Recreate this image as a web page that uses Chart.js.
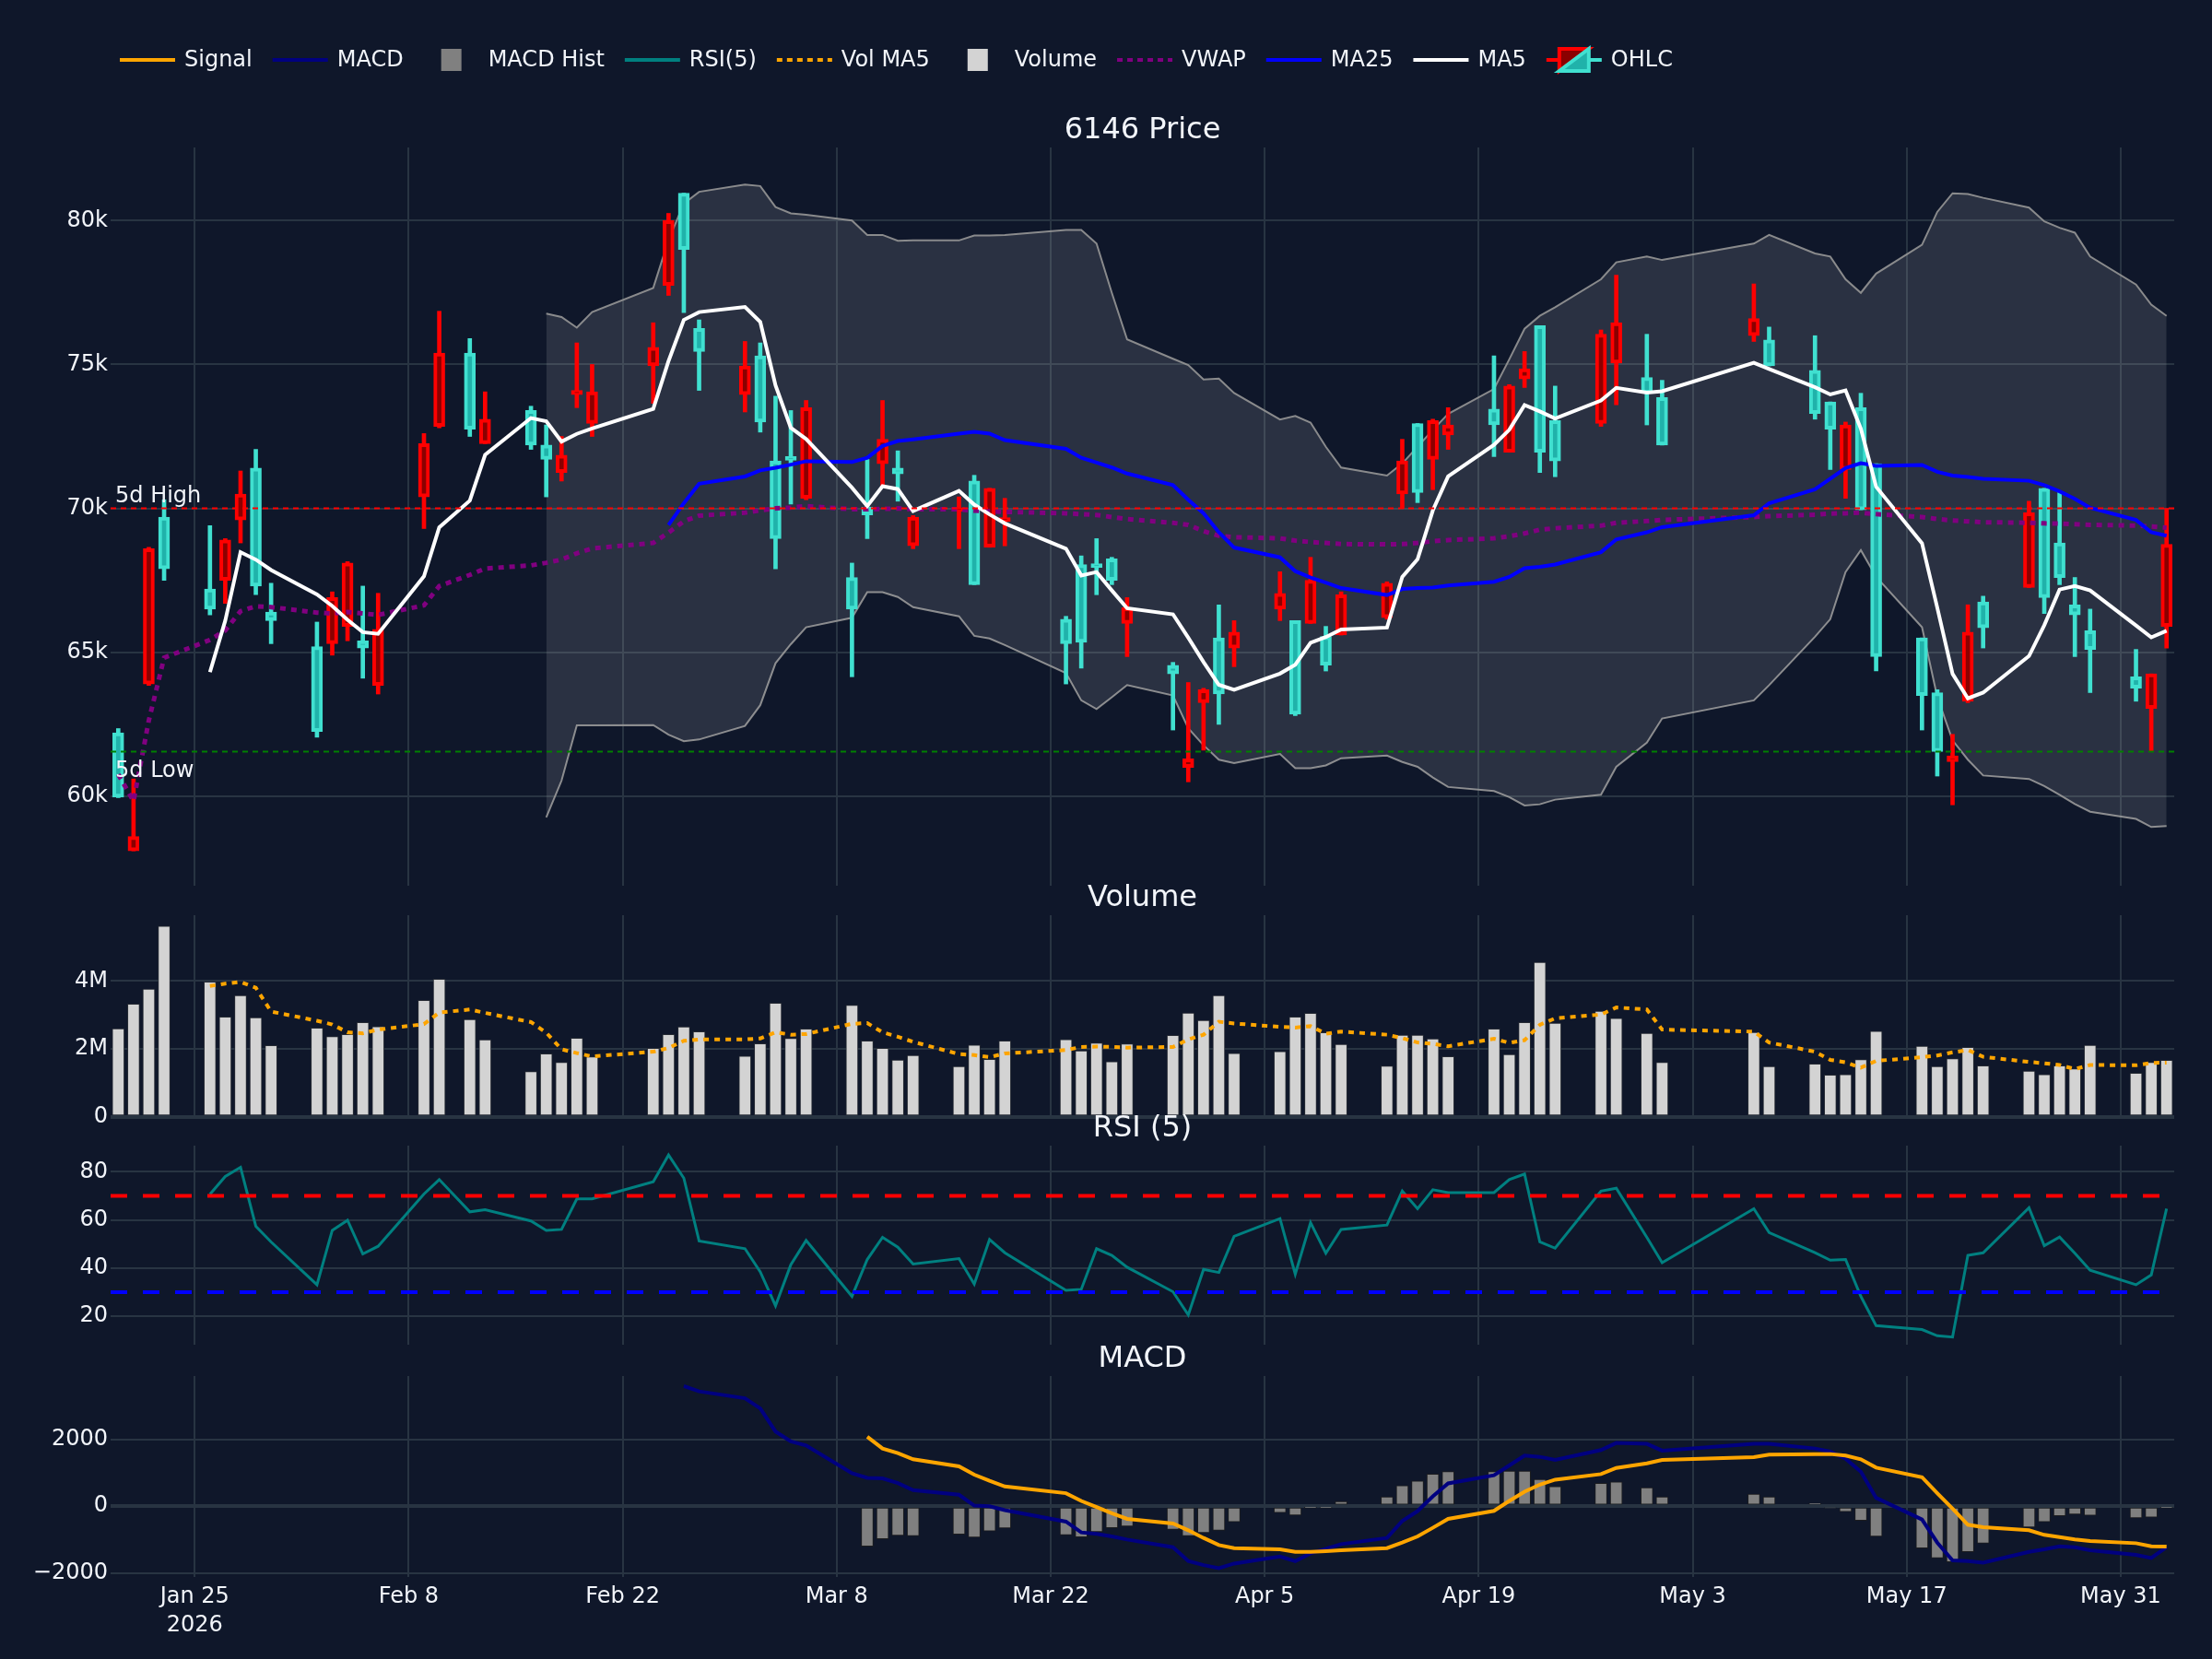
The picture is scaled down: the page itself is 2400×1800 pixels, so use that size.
<!DOCTYPE html>
<html>
<head>
<meta charset="utf-8">
<title>6146 Price</title>
<script src="https://cdn.jsdelivr.net/npm/chart.js@4.4.1/dist/chart.umd.min.js"></script>
<style>
  html, body { margin: 0; padding: 0; background: #0f172a; }
  #wrap { position: relative; width: 2400px; height: 1800px; overflow: hidden; }
  #wrap canvas { position: absolute; left: 0; }
</style>
</head>
<body>
<div id="wrap">
  <canvas id="price" width="2400" height="975" style="top:0px"></canvas>
  <canvas id="volume" width="2400" height="292" style="top:940px"></canvas>
  <canvas id="rsi" width="2400" height="269" style="top:1190px"></canvas>
  <canvas id="macd" width="2400" height="360" style="top:1440px"></canvas>
</div>
<script>
// prices in thousands of yen, volume in millions of shares
const dates = [
  '2026-01-20','2026-01-21','2026-01-22','2026-01-23','2026-01-26','2026-01-27','2026-01-28','2026-01-29','2026-01-30',
  '2026-02-02','2026-02-03','2026-02-04','2026-02-05','2026-02-06','2026-02-09','2026-02-10','2026-02-12','2026-02-13',
  '2026-02-16','2026-02-17','2026-02-18','2026-02-19','2026-02-20','2026-02-24','2026-02-25','2026-02-26','2026-02-27',
  '2026-03-02','2026-03-03','2026-03-04','2026-03-05','2026-03-06','2026-03-09','2026-03-10','2026-03-11','2026-03-12',
  '2026-03-13','2026-03-16','2026-03-17','2026-03-18','2026-03-19','2026-03-23','2026-03-24','2026-03-25','2026-03-26',
  '2026-03-27','2026-03-30','2026-03-31','2026-04-01','2026-04-02','2026-04-03','2026-04-06','2026-04-07','2026-04-08',
  '2026-04-09','2026-04-10','2026-04-13','2026-04-14','2026-04-15','2026-04-16','2026-04-17','2026-04-20','2026-04-21',
  '2026-04-22','2026-04-23','2026-04-24','2026-04-27','2026-04-28','2026-04-30','2026-05-01','2026-05-07','2026-05-08',
  '2026-05-11','2026-05-12','2026-05-13','2026-05-14','2026-05-15','2026-05-18','2026-05-19','2026-05-20','2026-05-21',
  '2026-05-22','2026-05-25','2026-05-26','2026-05-27','2026-05-28','2026-05-29','2026-06-01','2026-06-02','2026-06-03'
];
const open = [62.2, 58.1, 63.9, 69.7, 67.2, 67.5, 69.6, 71.4, 66.4, 65.2,
  65.3, 65.9, 65.4, 63.85, 70.4, 72.85, 75.4, 72.25, 73.4, 72.2,
  71.25, 73.95, 72.95, 74.95, 77.75, 80.95, 76.25, 73.95, 75.3, 71.65,
  71.75, 70.35, 67.6, 70.05, 71.55, 71.4, 68.7, 69.9, 70.95, 68.65,
  69.55, 66.15, 68.05, 68.05, 68.25, 66.0, 64.55, 61.0, 63.25, 65.5,
  65.15, 66.5, 66.1, 66.0, 65.55, 65.6, 66.2, 70.5, 72.95, 71.7,
  72.55, 73.45, 71.95, 74.5, 76.35, 73.05, 72.95, 75.05, 74.55, 73.85,
  76.0, 75.85, 74.8, 73.7, 71.35, 73.5, 71.55, 65.5, 63.6, 61.2,
  63.3, 66.75, 67.25, 70.7, 68.8, 66.65, 65.75, 64.15, 63.05, 65.9];
const high = [62.35, 60.6, 68.65, 70.3, 69.4, 68.95, 71.3, 72.05, 67.4, 66.05,
  67.1, 68.15, 67.3, 67.05, 72.6, 76.85, 75.9, 74.05, 73.55, 72.9,
  72.5, 75.75, 75.0, 76.45, 80.25, 80.95, 76.55, 75.8, 75.75, 73.9,
  73.4, 73.75, 68.1, 71.7, 73.75, 72.0, 69.75, 70.4, 71.15, 70.7,
  70.35, 66.25, 68.35, 68.95, 68.3, 66.9, 64.65, 63.95, 63.75, 66.65,
  66.1, 67.8, 66.1, 68.3, 65.9, 67.1, 67.45, 72.4, 72.95, 73.1,
  73.5, 75.3, 74.3, 75.45, 76.35, 74.25, 76.2, 78.1, 76.05, 74.45,
  77.8, 76.3, 76.0, 73.7, 73.0, 74.0, 71.55, 65.5, 63.7, 62.15,
  66.65, 66.95, 70.25, 70.7, 70.55, 67.6, 66.5, 65.1, 64.25, 70.0];
const low = [59.95, 58.1, 63.85, 67.5, 66.3, 66.7, 68.8, 67.0, 65.3, 62.05,
  64.9, 65.4, 64.1, 63.55, 69.3, 72.8, 72.5, 72.25, 72.05, 70.4,
  70.95, 73.5, 72.5, 73.65, 77.4, 76.8, 74.1, 73.35, 72.65, 67.9,
  70.15, 70.3, 64.15, 68.95, 70.8, 70.25, 68.6, 68.6, 67.35, 68.65,
  68.7, 63.9, 64.45, 67.0, 67.35, 64.85, 62.3, 60.5, 61.6, 62.5,
  64.5, 66.1, 62.8, 66.0, 64.35, 65.6, 66.15, 70.0, 70.2, 70.65,
  72.05, 71.8, 71.95, 74.2, 71.25, 71.1, 72.85, 73.6, 72.9, 72.2,
  75.8, 74.95, 73.1, 71.35, 70.35, 69.95, 64.35, 62.3, 60.7, 59.7,
  63.25, 65.15, 67.25, 66.35, 67.35, 64.85, 63.6, 63.3, 61.55, 65.15];
const close = [59.97, 58.6, 68.6, 67.9, 66.5, 68.9, 70.5, 67.3, 66.1, 62.25,
  66.9, 68.1, 65.15, 65.8, 72.25, 75.4, 72.75, 73.1, 72.2, 71.7,
  71.85, 74.1, 74.05, 75.6, 80.0, 79.0, 75.45, 74.95, 73.0, 68.95,
  71.67, 73.5, 66.5, 69.77, 72.4, 71.2, 69.7, 70.0, 67.35, 70.7,
  69.65, 65.3, 65.35, 67.95, 67.5, 66.55, 64.25, 61.3, 63.7, 63.55,
  65.7, 67.05, 62.85, 67.5, 64.55, 67.0, 67.4, 71.65, 70.55, 73.05,
  72.9, 72.9, 74.25, 74.85, 71.95, 71.65, 76.05, 76.45, 74.0, 72.2,
  76.6, 74.95, 73.3, 72.75, 72.9, 69.95, 64.85, 63.5, 61.55, 61.4,
  65.7, 65.85, 69.85, 66.9, 67.6, 66.3, 65.1, 63.75, 64.25, 68.75];
const volume = [2.60, 3.32, 3.76, 5.61, 3.97, 2.94, 3.57, 2.92, 2.10, 2.62,
  2.37, 2.43, 2.78, 2.66, 3.43, 4.05, 2.87, 2.27, 1.34, 1.86,
  1.61, 2.32, 1.77, 2.02, 2.43, 2.65, 2.51, 1.79, 2.16, 3.35,
  2.31, 2.59, 3.29, 2.24, 2.02, 1.68, 1.81, 1.49, 2.12, 1.70,
  2.24, 2.28, 1.95, 2.18, 1.63, 2.15, 2.40, 3.06, 2.84, 3.57,
  1.87, 1.93, 2.94, 3.05, 2.48, 2.14, 1.50, 2.41, 2.41, 2.30,
  1.78, 2.59, 1.84, 2.78, 4.55, 2.76, 3.11, 2.90, 2.46, 1.61,
  2.49, 1.49, 1.56, 1.24, 1.25, 1.69, 2.52, 2.08, 1.49, 1.72,
  2.05, 1.51, 1.35, 1.25, 1.51, 1.42, 2.11, 1.29, 1.61, 1.67];
const ma5 = [null, null, null, null, 64.31, 66.10, 68.48, 68.22, 67.86, 67.01,
  66.61, 66.13, 65.70, 65.64, 67.64, 69.34, 70.27, 71.86, 73.14, 73.03,
  72.32, 72.59, 72.78, 73.46, 75.12, 76.55, 76.82, 77.00, 76.48, 74.27,
  72.80, 72.41, 70.72, 70.08, 70.77, 70.67, 69.91, 70.61, 70.13, 69.79,
  69.48, 68.60, 67.67, 67.79, 67.15, 66.53, 66.32, 65.51, 64.66, 63.87,
  63.70, 64.26, 64.57, 65.33, 65.53, 65.79, 65.86, 67.62, 68.23, 69.93,
  71.11, 72.21, 72.73, 73.59, 73.37, 73.12, 73.75, 74.19, 74.02, 74.07,
  75.06, 74.84, 74.21, 73.96, 74.10, 72.77, 70.75, 68.79, 66.55, 64.25,
  63.40, 63.60, 64.87, 65.94, 67.18, 67.30, 67.15, 65.93, 65.52, 65.75];
const ma25 = [null, null, null, null, null, null, null, null, null, null,
  null, null, null, null, null, null, null, null, null, null,
  null, null, null, null, 69.42, 70.18, 70.86, 71.11, 71.32, 71.41,
  71.52, 71.64, 71.61, 71.76, 72.17, 72.34, 72.40, 72.60, 72.66, 72.60,
  72.37, 72.07, 71.76, 71.59, 71.42, 71.21, 70.81, 70.30, 69.83, 69.17,
  68.64, 68.30, 67.82, 67.60, 67.42, 67.23, 66.99, 67.20, 67.23, 67.25,
  67.32, 67.45, 67.62, 67.92, 67.97, 68.05, 68.48, 68.92, 69.17, 69.35,
  69.76, 70.18, 70.66, 71.03, 71.40, 71.57, 71.48, 71.51, 71.27, 71.14,
  71.09, 71.03, 70.96, 70.81, 70.59, 70.33, 70.02, 69.60, 69.17, 69.05];
const bbUpper = [null, null, null, null, null, null, null, null, null, null,
  null, null, null, null, null, null, null, null, null, 76.77,
  76.65, 76.28, 76.82, 77.66, 79.33, 80.59, 81.0, 81.25, 81.2, 80.47,
  80.25, 80.2, 80.0, 79.5, 79.5, 79.3, 79.31, 79.31, 79.48, 79.48,
  79.5, 79.67, 79.67, 79.2, 77.49, 75.87, 75.2, 74.98, 74.48, 74.51,
  74.01, 73.09, 73.21, 72.98, 72.14, 71.42, 71.14, 71.56, 72.14, 72.73,
  73.28, 74.15, 75.18, 76.24, 76.69, 76.99, 77.96, 78.55, 78.75, 78.63,
  79.2, 79.5, 78.86, 78.75, 77.96, 77.49, 78.16, 79.16, 80.3, 80.95,
  80.92, 80.79, 80.45, 79.97, 79.75, 79.58, 78.75, 77.78, 77.08, 76.69];
const bbLower = [null, null, null, null, null, null, null, null, null, null,
  null, null, null, null, null, null, null, null, null, 59.26,
  60.54, 62.46, 62.46, 62.47, 62.14, 61.91, 61.97, 62.44, 63.16, 64.62,
  65.28, 65.87, 66.2, 67.09, 67.09, 66.92, 66.57, 66.25, 65.57, 65.48,
  65.25, 64.28, 63.33, 63.03, 63.44, 63.86, 63.5, 62.36, 61.77, 61.27,
  61.15, 61.47, 60.97, 60.97, 61.07, 61.32, 61.41, 61.19, 61.02, 60.65,
  60.32, 60.18, 59.97, 59.68, 59.72, 59.88, 60.05, 61.02, 61.86, 62.7,
  63.33, 63.86, 65.54, 66.15, 67.79, 68.55, 67.62, 65.87, 63.44, 61.94,
  61.27, 60.72, 60.6, 60.35, 60.05, 59.73, 59.46, 59.21, 58.93, 58.96];
const vwap = [60.76, 59.83, 62.63, 64.81, 65.43, 65.76, 66.43, 66.6, 66.57, 66.38,
  66.35, 66.4, 66.35, 66.3, 66.63, 67.3, 67.69, 67.91, 68.02, 68.11,
  68.22, 68.44, 68.61, 68.8, 69.16, 69.55, 69.75, 69.85, 69.93, 70.0,
  70.03, 70.08, 69.97, 69.97, 69.98, 70.0, 69.97, 69.97, 69.92, 69.9,
  69.88, 69.83, 69.8, 69.77, 69.7, 69.63, 69.5, 69.43, 69.21, 69.05,
  69.0, 68.96, 68.88, 68.83, 68.8, 68.76, 68.75, 68.76, 68.8, 68.86,
  68.9, 68.96, 69.03, 69.13, 69.26, 69.31, 69.4, 69.5, 69.56, 69.6,
  69.7, 69.73, 69.78, 69.82, 69.83, 69.85, 69.8, 69.7, 69.63, 69.58,
  69.55, 69.52, 69.5, 69.48, 69.47, 69.45, 69.43, 69.4, 69.37, 69.33];
const volMa5 = [null, null, null, null, 3.85, 3.92, 3.97, 3.80, 3.10, 2.83,
  2.72, 2.49, 2.46, 2.57, 2.73, 3.07, 3.16, 3.06, 2.79, 2.48,
  1.99, 1.88, 1.78, 1.92, 2.03, 2.24, 2.28, 2.28, 2.31, 2.49,
  2.42, 2.44, 2.74, 2.76, 2.49, 2.36, 2.21, 1.85, 1.82, 1.76,
  1.87, 1.97, 2.06, 2.07, 2.06, 2.04, 2.06, 2.28, 2.42, 2.80,
  2.75, 2.65, 2.63, 2.67, 2.45, 2.51, 2.42, 2.32, 2.19, 2.15,
  2.08, 2.30, 2.18, 2.26, 2.71, 2.90, 3.01, 3.22, 3.16, 2.57,
  2.51, 2.19, 1.92, 1.68, 1.61, 1.45, 1.65, 1.76, 1.81, 1.90,
  1.97, 1.77, 1.62, 1.58, 1.53, 1.41, 1.53, 1.52, 1.59, 1.60];
const rsi5 = [null, null, null, null, 70.7, 78.1, 81.9, 57.4, 50.9, 33.1,
  55.7, 59.9, 45.9, 49.1, 70.8, 76.8, 63.4, 64.3, 59.6, 55.7,
  56.1, 68.8, 68.8, 75.9, 87.0, 77.4, 51.3, 48.1, 38.5, 24.4,
  41.4, 51.5, 28.3, 43.6, 52.8, 48.7, 41.7, 44.0, 33.4, 51.9,
  46.4, 30.8, 31.2, 48.1, 45.3, 40.4, 30.2, 20.6, 39.5, 38.2,
  53.2, 60.6, 37.5, 58.9, 46.2, 56.1, 57.9, 72.0, 64.7, 72.6,
  71.4, 71.4, 76.8, 79.1, 50.9, 48.3, 72.0, 73.2, 52.8, 42.3,
  64.7, 54.8, 46.4, 43.3, 43.6, 28.3, 16.1, 14.5, 11.9, 11.4,
  45.3, 46.4, 65.1, 49.3, 52.9, 46.2, 39.1, 33.1, 37.2, 64.7];
const macdLine = [null, null, null, null, null, null, null, null, null, null,
  null, null, null, null, null, null, null, null, null, null,
  null, null, null, null, null, 3594, 3437, 3233, 2928, 2236,
  1940, 1820, 988, 850, 831, 693, 480, 342, 18, 0,
  -120, -462, -785, -831, -905, -998, -1229, -1644, -1764, -1857,
  -1718, -1506, -1644, -1413, -1275, -1136, -952, -443, -148, 296,
  684, 924, 1219, 1515, 1478, 1386, 1681, 1894, 1866, 1663,
  1866, 1866, 1727, 1635, 1423, 1035, 249, -397, -1090, -1626,
  -1644, -1690, -1367, -1293, -1201, -1229, -1321, -1460, -1552, -1229];
const signalLine = [null, null, null, null, null, null, null, null, null, null,
  null, null, null, null, null, null, null, null, null, null,
  null, null, null, null, null, null, null, null, null, null,
  null, null, null, 2079, 1727, 1589, 1404, 1192, 942, 758,
  591, 388, 157, -28, -212, -379, -517, -721, -952, -1164,
  -1256, -1293, -1367, -1367, -1349, -1321, -1256, -1090, -905, -647,
  -379, -139, 157, 434, 647, 794, 961, 1146, 1284, 1386,
  1469, 1543, 1561, 1561, 1515, 1404, 1155, 868, 388, -74,
  -554, -628, -721, -859, -924, -998, -1044, -1109, -1201, -1210];
const macdHist = [null, null, null, null, null, null, null, null, null, null,
  null, null, null, null, null, null, null, null, null, null,
  null, null, null, null, null, null, null, null, null, null,
  null, null, null, -1201, -979, -878, -887, -841, -933, -748,
  -656, -859, -924, -767, -647, -600, -693, -887, -794, -721,
  -471, -194, -268, -28, -28, 139, 277, 619, 758, 961,
  1035, 1035, 1053, 1053, 804, 591, 684, 730, 554, 277,
  360, 277, 83, -46, -166, -425, -905, -1256, -1552, -1672,
  -1367, -1109, -628, -471, -286, -240, -277, -351, -333, -28];

const tickDates = ['2026-01-25', '2026-02-08', '2026-02-22', '2026-03-08', '2026-03-22',
  '2026-04-05', '2026-04-19', '2026-05-03', '2026-05-17', '2026-05-31'];
const tickLabels = [['Jan 25', '2026'], 'Feb 8', 'Feb 22', 'Mar 8', 'Mar 22',
  'Apr 5', 'Apr 19', 'May 3', 'May 17', 'May 31'];
const priceTicks = [60, 65, 70, 75, 80];
const volumeTicks = [0, 2, 4];
const rsiTicks = [20, 40, 60, 80];
const macdTicks = [-2000, 0, 2000];
const rsiLevels = [70, 30];

const legendItems = [
  { text: 'Signal', kind: 'line', color: '#ffa500' },
  { text: 'MACD', kind: 'line', color: '#000080' },
  { text: 'MACD Hist', kind: 'box', color: '#808080' },
  { text: 'RSI(5)', kind: 'line', color: '#008080' },
  { text: 'Vol MA5', kind: 'dot', color: '#ffa500' },
  { text: 'Volume', kind: 'box', color: '#d3d3d3' },
  { text: 'VWAP', kind: 'dot', color: '#800080' },
  { text: 'MA25', kind: 'line', color: '#0000ff' },
  { text: 'MA5', kind: 'line', color: '#ffffff' },
  { text: 'OHLC', kind: 'ohlc' }
];

// colours
const RED = '#ff0000', RED_FILL = '#8b0000';
const TURQ = '#40e0d0', TURQ_FILL = '#20b2aa';
const GRID = '#283442', TXT = '#f2f5fa';
const FAMILY = "'DejaVu Sans', sans-serif";

Chart.defaults.font.family = FAMILY;
Chart.defaults.font.size = 24;
Chart.defaults.color = TXT;

const DAY0 = Date.parse('2026-01-25');
const xOf = d => (Date.parse(d) - DAY0) / 864e5;
const X_MIN = xOf(dates[0]) - 0.5;
const X_MAX = xOf(dates[dates.length - 1]) + 0.5;
const tickDays = tickDates.map(xOf);
const hi5 = Math.max(...high.slice(-5));
const lo5 = Math.min(...low.slice(-5));

function series(values) {
  return dates.map((d, i) => ({ x: xOf(d), y: values[i] })).filter(p => p.y !== null);
}

function level(v) {
  return [{ x: X_MIN, y: v }, { x: X_MAX, y: v }];
}

function xAxis(labelHeight) {
  return {
    type: 'linear', position: 'bottom', min: X_MIN, max: X_MAX, offset: false,
    grid: { color: GRID, lineWidth: 2, drawTicks: false, offset: false },
    border: { display: false },
    ticks: {
      display: labelHeight > 0, color: TXT, padding: 6, maxRotation: 0, autoSkip: false,
      font: { size: 24, lineHeight: 1.3 },
      callback: v => tickLabels[tickDays.indexOf(v)]
    },
    afterBuildTicks: s => { s.ticks = tickDays.map(v => ({ value: v })); },
    afterFit: s => { s.height = labelHeight; s.paddingLeft = 0; s.paddingRight = 0; }
  };
}

function yAxis(min, max, ticks, fmt, zeroLine) {
  const isZero = c => zeroLine && c.tick && c.tick.value === 0;
  return {
    type: 'linear', position: 'left', min: min, max: max,
    grid: { drawTicks: false, color: GRID, lineWidth: c => isZero(c) ? 4 : 2 },
    border: { display: false },
    ticks: { color: TXT, padding: 3, font: { size: 24 }, callback: fmt },
    afterBuildTicks: s => { s.ticks = ticks.map(v => ({ value: v })); },
    afterFit: s => { s.width = 120; s.paddingTop = 0; s.paddingBottom = 0; }
  };
}

// subplot title centred over the plot area
const panelTitle = {
  id: 'panelTitle',
  afterDraw(chart, args, opts) {
    if (!opts.text) return;
    const { ctx, chartArea } = chart;
    ctx.save();
    ctx.font = '32px ' + FAMILY;
    ctx.fillStyle = TXT;
    ctx.textAlign = 'center';
    ctx.textBaseline = 'middle';
    ctx.fillText(opts.text, (chartArea.left + chartArea.right) / 2, chartArea.top - 18);
    ctx.restore();
  }
};
Chart.register(panelTitle);

// one legend row for all four panels
const legendRow = {
  id: 'legendRow',
  afterDraw(chart) {
    const ctx = chart.ctx;
    const y = 65;
    let x = 120;
    ctx.save();
    ctx.font = '24px ' + FAMILY;
    ctx.textBaseline = 'middle';
    ctx.textAlign = 'left';
    legendItems.forEach(item => {
      const cx = x + 40;
      ctx.save();
      if (item.kind === 'line' || item.kind === 'dot') {
        ctx.strokeStyle = item.color;
        ctx.lineWidth = 4;
        ctx.setLineDash(item.kind === 'dot' ? [6, 5] : []);
        ctx.beginPath(); ctx.moveTo(x + 10, y); ctx.lineTo(x + 70, y); ctx.stroke();
      } else if (item.kind === 'box') {
        ctx.fillStyle = item.color;
        ctx.fillRect(cx - 11, y - 12, 22, 24);
      } else {
        ctx.lineWidth = 4;
        ctx.beginPath();
        ctx.moveTo(cx - 30, y); ctx.lineTo(cx - 16, y);
        ctx.moveTo(cx - 16, y + 12); ctx.lineTo(cx - 16, y - 12); ctx.lineTo(cx + 16, y - 12); ctx.closePath();
        ctx.fillStyle = RED_FILL; ctx.fill(); ctx.strokeStyle = RED; ctx.stroke();
        ctx.beginPath();
        ctx.moveTo(cx + 30, y); ctx.lineTo(cx + 16, y);
        ctx.moveTo(cx + 16, y - 12); ctx.lineTo(cx + 16, y + 12); ctx.lineTo(cx - 16, y + 12); ctx.closePath();
        ctx.fillStyle = TURQ_FILL; ctx.fill(); ctx.strokeStyle = TURQ; ctx.stroke();
      }
      ctx.restore();
      ctx.fillStyle = TXT;
      ctx.fillText(item.text, x + 80, y + 1);
      x += 80 + ctx.measureText(item.text).width + 12;
    });
    ctx.restore();
  }
};

const levelLabels = {
  id: 'levelLabels',
  afterDatasetsDraw(chart) {
    const { ctx, chartArea } = chart;
    const y = chart.scales.y;
    ctx.save();
    ctx.font = '24px ' + FAMILY;
    ctx.fillStyle = TXT;
    ctx.textAlign = 'left';
    ctx.textBaseline = 'alphabetic';
    ctx.fillText('5d High', chartArea.left + 5, y.getPixelForValue(hi5) - 7);
    ctx.fillText('5d Low', chartArea.left + 5, y.getPixelForValue(lo5) + 28);
    ctx.restore();
  }
};

function baseOptions(padTop, padBottom, title) {
  return {
    responsive: false, animation: false, devicePixelRatio: 1, events: [],
    layout: { padding: { left: 0, right: 41, top: padTop, bottom: padBottom } },
    elements: { point: { radius: 0 }, line: { tension: 0 } },
    plugins: { legend: { display: false }, tooltip: { enabled: false }, panelTitle: { text: title } }
  };
}

const up = close.map((c, i) => c >= open[i]);
const candleX = dates.map(xOf);

// price panel
const priceOpts = baseOptions(160, 14, '6146 Price');
priceOpts.scales = {
  x: xAxis(0),
  y: yAxis(56.89, 82.54, priceTicks, v => v + 'k', false)
};
new Chart(document.getElementById('price'), {
  type: 'line',
  data: {
    datasets: [
      { label: 'BB Lower', data: series(bbLower), borderColor: 'rgba(150,150,150,0.9)', borderWidth: 2, fill: false, order: 10 },
      { label: 'BB Upper', data: series(bbUpper), borderColor: 'rgba(150,150,150,0.9)', borderWidth: 2,
        fill: '-1', backgroundColor: 'rgba(200,200,210,0.15)', order: 9 },
      { type: 'bar', label: 'wick', data: candleX.map((x, i) => ({ x: x, y: [low[i], high[i]] })),
        backgroundColor: up.map(u => u ? RED : TURQ), barThickness: 4, grouped: false, order: 8 },
      { type: 'bar', label: 'OHLC', data: candleX.map((x, i) => ({ x: x, y: [open[i], close[i]] })),
        backgroundColor: up.map(u => u ? RED_FILL : TURQ_FILL), borderColor: up.map(u => u ? RED : TURQ),
        borderWidth: 4, borderSkipped: false, barThickness: 12, minBarLength: 4, grouped: false, order: 7 },
      { label: 'VWAP', data: series(vwap), borderColor: '#800080', borderWidth: 5, borderDash: [6, 6], order: 6 },
      { label: 'MA25', data: series(ma25), borderColor: '#0000ff', borderWidth: 4, order: 5 },
      { label: 'MA5', data: series(ma5), borderColor: '#ffffff', borderWidth: 4, order: 4 },
      { label: '5d High', data: level(hi5), borderColor: '#ff0000', borderWidth: 2, borderDash: [6, 5], order: 1 },
      { label: '5d Low', data: level(lo5), borderColor: '#008000', borderWidth: 2, borderDash: [6, 5], order: 2 }
    ]
  },
  options: priceOpts,
  plugins: [legendRow, levelLabels]
});

// volume panel (extra 20px below the plot so the "0" label is not cut)
const volOpts = baseOptions(53, 0, 'Volume');
volOpts.scales = {
  x: xAxis(20),
  y: yAxis(0, 5.93, volumeTicks, v => v === 0 ? '0' : v + 'M', true)
};
volOpts.scales.x.ticks.display = false;
new Chart(document.getElementById('volume'), {
  type: 'line',
  data: {
    datasets: [
      { label: 'Vol MA5', data: series(volMa5), borderColor: '#ffa500', borderWidth: 4, borderDash: [6, 6], order: 1 },
      { type: 'bar', label: 'Volume', data: series(volume), backgroundColor: '#d3d3d3',
        borderColor: 'rgba(40,44,52,0.9)', borderWidth: 1, borderSkipped: false, barThickness: 13, grouped: false, order: 2 }
    ]
  },
  options: volOpts
});

// RSI panel
const rsiOpts = baseOptions(53, 0, 'RSI (5)');
rsiOpts.scales = {
  x: xAxis(0),
  y: yAxis(8.2, 90.9, rsiTicks, v => String(v), false)
};
new Chart(document.getElementById('rsi'), {
  type: 'line',
  data: {
    datasets: [
      { label: 'Overbought', data: level(rsiLevels[0]), borderColor: '#ff0000', borderWidth: 4, borderDash: [18, 17], order: 1 },
      { label: 'Oversold', data: level(rsiLevels[1]), borderColor: '#0000ff', borderWidth: 4, borderDash: [18, 17], order: 1 },
      { label: 'RSI(5)', data: series(rsi5), borderColor: '#008080', borderWidth: 3, order: 2 }
    ]
  },
  options: rsiOpts
});

// MACD panel
const macdOpts = baseOptions(53, 0, 'MACD');
macdOpts.scales = {
  x: xAxis(89),
  y: yAxis(-2120, 3897, macdTicks, v => v < 0 ? '\u2212' + Math.abs(v) : String(v), true)
};
new Chart(document.getElementById('macd'), {
  type: 'line',
  data: {
    datasets: [
      { label: 'Signal', data: series(signalLine), borderColor: '#ffa500', borderWidth: 4, order: 1 },
      { label: 'MACD', data: series(macdLine), borderColor: '#000080', borderWidth: 4, order: 2 },
      { type: 'bar', label: 'MACD Hist', data: series(macdHist), backgroundColor: '#808080',
        borderColor: 'rgba(30,30,30,0.9)', borderWidth: 1, borderSkipped: false, barThickness: 13, grouped: false, order: 3 }
    ]
  },
  options: macdOpts
});
</script>
</body>
</html>
